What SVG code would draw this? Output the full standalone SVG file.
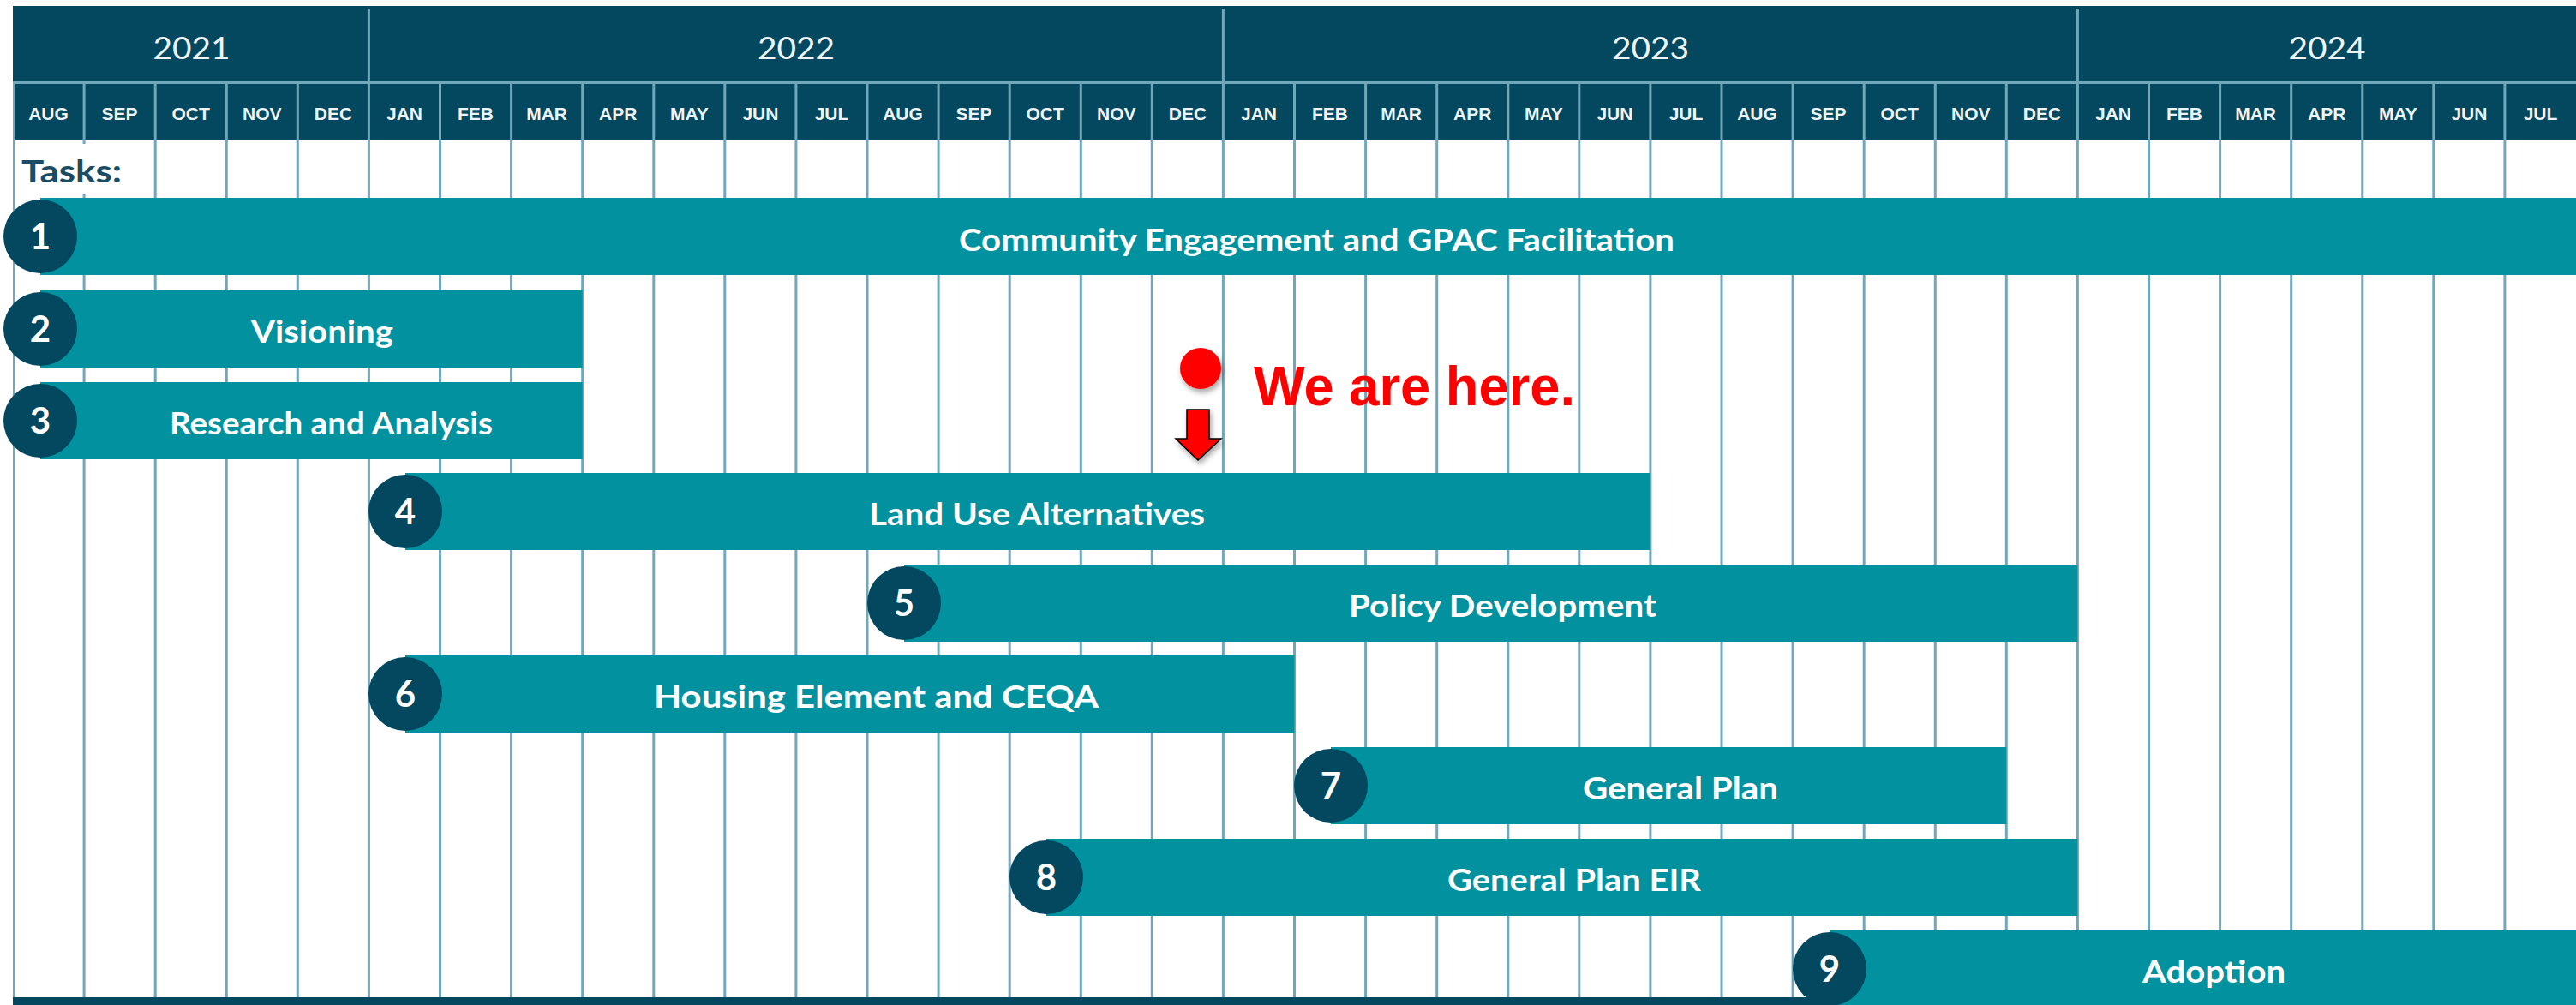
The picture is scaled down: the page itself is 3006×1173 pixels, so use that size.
<svg xmlns="http://www.w3.org/2000/svg" width="3006" height="1173" viewBox="0 0 3006 1173">
<defs>
<style>
.hdr{fill:#03485F}
.grid{stroke:#70A7BA;stroke-width:3;fill:none}
.yr{font-family:Lato,"Open Sans",sans-serif;font-size:37px;fill:#EEF4F7;text-anchor:middle}
.mo{font-family:"Liberation Sans",Arial,sans-serif;font-weight:bold;font-size:21px;fill:#EEF4F7;text-anchor:middle}
.bar{fill:#01919F}
.dot{fill:#03485F}
.num{font-family:Lato,"Open Sans",sans-serif;font-weight:bold;font-size:42px;fill:#FFFFFF;text-anchor:middle}
.lbl{font-family:Lato,"Open Sans",sans-serif;font-weight:bold;font-size:36px;fill:#FFFFFF;text-anchor:middle}
.tasks{font-family:Lato,"Open Sans",sans-serif;font-weight:bold;font-size:37px;fill:#1B4C62}
</style>
<filter id="sh" x="-30%" y="-30%" width="160%" height="160%">
<feDropShadow dx="2" dy="4" stdDeviation="3" flood-color="#000" flood-opacity="0.35"/>
</filter>
</defs>
<rect width="3006" height="1173" fill="#FFFFFF"/>
<g id="header">
<rect class="hdr" x="15" y="7" width="2991" height="156"/>
<line class="grid" x1="15" y1="96.5" x2="3006" y2="96.5"/>
<g class="grid">
<line x1="430.4" y1="10" x2="430.4" y2="97"/>
<line x1="1427.4" y1="10" x2="1427.4" y2="97"/>
<line x1="2424.4" y1="10" x2="2424.4" y2="97"/>
</g>
<text class="yr" x="223.5" y="69" textLength="90" lengthAdjust="spacingAndGlyphs">2021</text>
<text class="yr" x="929" y="69" textLength="90" lengthAdjust="spacingAndGlyphs">2022</text>
<text class="yr" x="1926" y="69" textLength="90" lengthAdjust="spacingAndGlyphs">2023</text>
<text class="yr" x="2715.5" y="69" textLength="90" lengthAdjust="spacingAndGlyphs">2024</text>
<g class="months">
<text class="mo" x="56.5" y="140">AUG</text>
<text class="mo" x="139.6" y="140">SEP</text>
<text class="mo" x="222.7" y="140">OCT</text>
<text class="mo" x="305.8" y="140">NOV</text>
<text class="mo" x="388.9" y="140">DEC</text>
<text class="mo" x="472" y="140">JAN</text>
<text class="mo" x="555" y="140">FEB</text>
<text class="mo" x="638.1" y="140">MAR</text>
<text class="mo" x="721.2" y="140">APR</text>
<text class="mo" x="804.3" y="140">MAY</text>
<text class="mo" x="887.4" y="140">JUN</text>
<text class="mo" x="970.5" y="140">JUL</text>
<text class="mo" x="1053.5" y="140">AUG</text>
<text class="mo" x="1136.6" y="140">SEP</text>
<text class="mo" x="1219.7" y="140">OCT</text>
<text class="mo" x="1302.8" y="140">NOV</text>
<text class="mo" x="1385.9" y="140">DEC</text>
<text class="mo" x="1469" y="140">JAN</text>
<text class="mo" x="1552" y="140">FEB</text>
<text class="mo" x="1635.1" y="140">MAR</text>
<text class="mo" x="1718.2" y="140">APR</text>
<text class="mo" x="1801.3" y="140">MAY</text>
<text class="mo" x="1884.4" y="140">JUN</text>
<text class="mo" x="1967.5" y="140">JUL</text>
<text class="mo" x="2050.5" y="140">AUG</text>
<text class="mo" x="2133.6" y="140">SEP</text>
<text class="mo" x="2216.7" y="140">OCT</text>
<text class="mo" x="2299.8" y="140">NOV</text>
<text class="mo" x="2382.9" y="140">DEC</text>
<text class="mo" x="2466" y="140">JAN</text>
<text class="mo" x="2549" y="140">FEB</text>
<text class="mo" x="2632.1" y="140">MAR</text>
<text class="mo" x="2715.2" y="140">APR</text>
<text class="mo" x="2798.3" y="140">MAY</text>
<text class="mo" x="2881.4" y="140">JUN</text>
<text class="mo" x="2964.5" y="140">JUL</text>
</g>
</g>
<g id="grid" class="grid">
<line x1="16.5" y1="97" x2="16.5" y2="1164"/>
<line x1="98.1" y1="97" x2="98.1" y2="1164"/>
<line x1="181.2" y1="97" x2="181.2" y2="1164"/>
<line x1="264.3" y1="97" x2="264.3" y2="1164"/>
<line x1="347.3" y1="97" x2="347.3" y2="1164"/>
<line x1="430.4" y1="97" x2="430.4" y2="1164"/>
<line x1="513.5" y1="97" x2="513.5" y2="1164"/>
<line x1="596.6" y1="97" x2="596.6" y2="1164"/>
<line x1="679.7" y1="97" x2="679.7" y2="1164"/>
<line x1="762.8" y1="97" x2="762.8" y2="1164"/>
<line x1="845.8" y1="97" x2="845.8" y2="1164"/>
<line x1="928.9" y1="97" x2="928.9" y2="1164"/>
<line x1="1012" y1="97" x2="1012" y2="1164"/>
<line x1="1095.1" y1="97" x2="1095.1" y2="1164"/>
<line x1="1178.2" y1="97" x2="1178.2" y2="1164"/>
<line x1="1261.3" y1="97" x2="1261.3" y2="1164"/>
<line x1="1344.3" y1="97" x2="1344.3" y2="1164"/>
<line x1="1427.4" y1="97" x2="1427.4" y2="1164"/>
<line x1="1510.5" y1="97" x2="1510.5" y2="1164"/>
<line x1="1593.6" y1="97" x2="1593.6" y2="1164"/>
<line x1="1676.7" y1="97" x2="1676.7" y2="1164"/>
<line x1="1759.8" y1="97" x2="1759.8" y2="1164"/>
<line x1="1842.8" y1="97" x2="1842.8" y2="1164"/>
<line x1="1925.9" y1="97" x2="1925.9" y2="1164"/>
<line x1="2009" y1="97" x2="2009" y2="1164"/>
<line x1="2092.1" y1="97" x2="2092.1" y2="1164"/>
<line x1="2175.2" y1="97" x2="2175.2" y2="1164"/>
<line x1="2258.3" y1="97" x2="2258.3" y2="1164"/>
<line x1="2341.3" y1="97" x2="2341.3" y2="1164"/>
<line x1="2424.4" y1="97" x2="2424.4" y2="1164"/>
<line x1="2507.5" y1="97" x2="2507.5" y2="1164"/>
<line x1="2590.6" y1="97" x2="2590.6" y2="1164"/>
<line x1="2673.7" y1="97" x2="2673.7" y2="1164"/>
<line x1="2756.8" y1="97" x2="2756.8" y2="1164"/>
<line x1="2839.8" y1="97" x2="2839.8" y2="1164"/>
<line x1="2922.9" y1="97" x2="2922.9" y2="1164"/>
</g>
<rect class="hdr" x="15" y="1164" width="2991" height="9"/>
<g id="tasks-title">
<rect x="20" y="168" width="125" height="58" fill="#FFFFFF"/>
<text class="tasks" x="25" y="213" textLength="117" lengthAdjust="spacingAndGlyphs">Tasks:</text>
</g>
<g id="task1">
<rect class="bar" x="47" y="231" width="2959" height="90"/>
<circle class="dot" cx="47" cy="276" r="43"/>
<text class="num" x="47" y="291">1</text>
<text class="lbl" x="1536.5" y="293" textLength="835" lengthAdjust="spacingAndGlyphs">Community Engagement and GPAC Facilitation</text>
</g>
<g id="task2">
<rect class="bar" x="47" y="339" width="632.7" height="90"/>
<circle class="dot" cx="47" cy="384" r="43"/>
<text class="num" x="47" y="399">2</text>
<text class="lbl" x="376" y="400" textLength="166" lengthAdjust="spacingAndGlyphs">Visioning</text>
</g>
<g id="task3">
<rect class="bar" x="47" y="446" width="632.7" height="90"/>
<circle class="dot" cx="47" cy="491" r="43"/>
<text class="num" x="47" y="506">3</text>
<text class="lbl" x="386.5" y="507" textLength="377" lengthAdjust="spacingAndGlyphs">Research and Analysis</text>
</g>
<g id="task4">
<rect class="bar" x="473" y="552" width="1452.9" height="90"/>
<circle class="dot" cx="473" cy="597" r="43"/>
<text class="num" x="473" y="612">4</text>
<text class="lbl" x="1210" y="613" textLength="392" lengthAdjust="spacingAndGlyphs">Land Use Alternatives</text>
</g>
<g id="task5">
<rect class="bar" x="1055" y="659" width="1369.4" height="90"/>
<circle class="dot" cx="1055" cy="704" r="43"/>
<text class="num" x="1055" y="719">5</text>
<text class="lbl" x="1753.5" y="720" textLength="359" lengthAdjust="spacingAndGlyphs">Policy Development</text>
</g>
<g id="task6">
<rect class="bar" x="473" y="765" width="1037.5" height="90"/>
<circle class="dot" cx="473" cy="810" r="43"/>
<text class="num" x="473" y="825">6</text>
<text class="lbl" x="1022.5" y="826" textLength="519" lengthAdjust="spacingAndGlyphs">Housing Element and CEQA</text>
</g>
<g id="task7">
<rect class="bar" x="1553" y="872" width="788.3" height="90"/>
<circle class="dot" cx="1553" cy="917" r="43"/>
<text class="num" x="1553" y="932">7</text>
<text class="lbl" x="1961" y="933" textLength="228" lengthAdjust="spacingAndGlyphs">General Plan</text>
</g>
<g id="task8">
<rect class="bar" x="1221" y="979" width="1203.4" height="90"/>
<circle class="dot" cx="1221" cy="1024" r="43"/>
<text class="num" x="1221" y="1039">8</text>
<text class="lbl" x="1837" y="1040" textLength="296" lengthAdjust="spacingAndGlyphs">General Plan EIR</text>
</g>
<g id="task9">
<rect class="bar" x="2135" y="1086" width="871" height="90"/>
<circle class="dot" cx="2135" cy="1131" r="43"/>
<text class="num" x="2135" y="1146">9</text>
<text class="lbl" x="2583.5" y="1147" textLength="167" lengthAdjust="spacingAndGlyphs">Adoption</text>
</g>
<g id="we-are-here">
<circle cx="1401" cy="430" r="24" fill="#FF0000" filter="url(#sh)"/>
<text x="1463" y="473" font-family="'Liberation Sans',Arial,sans-serif" font-weight="bold" font-size="64" fill="#FF0000" textLength="375" lengthAdjust="spacingAndGlyphs">We are here.</text>
</g>
<g id="connectors">
<polygon points="1385,478 1411,478 1411,512 1425,512 1398,537 1372,512 1385,512" fill="#FF0000" stroke="#000000" stroke-width="1.5" stroke-linejoin="miter" filter="url(#sh)"/>
</g>
</svg>
